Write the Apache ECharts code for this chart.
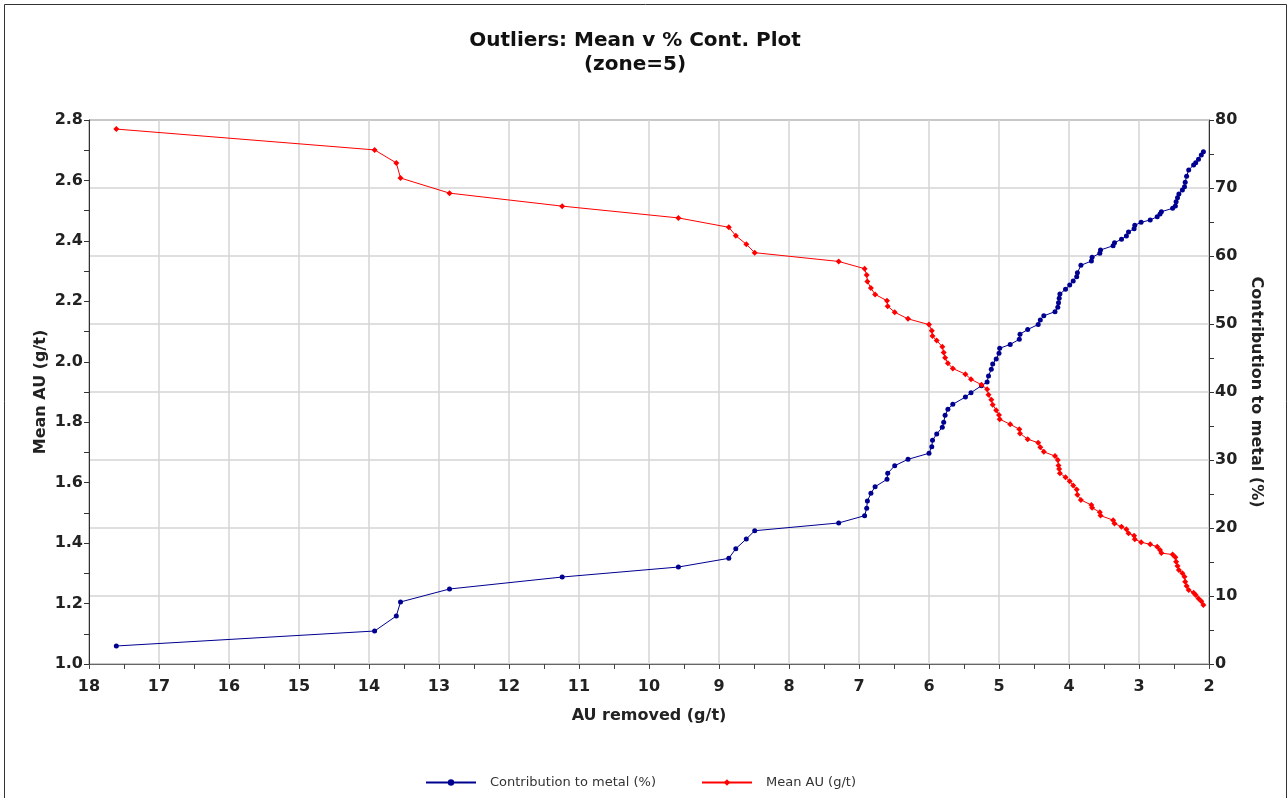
<!DOCTYPE html>
<html>
<head>
<meta charset="utf-8">
<script src="https://cdn.jsdelivr.net/npm/echarts@6/dist/echarts.min.js"></script>
<style>
  html, body { margin: 0; padding: 0; background: #ffffff; }
  #chart { width: 1288px; height: 798px; }
</style>
</head>
<body>
<div id="chart"></div>
<script>
// Cut-off grade removed (g/t) for each step of the outlier analysis
const auRemoved = [
  17.61, 13.92, 13.61, 13.55, 12.85, 11.24, 9.58, 8.86, 8.76, 8.61,
  8.49, 7.29, 6.92, 6.89, 6.88, 6.83, 6.77, 6.60, 6.59, 6.49,
  6.30, 6.00, 5.96, 5.95, 5.89, 5.81, 5.79, 5.77, 5.73, 5.66,
  5.48, 5.40, 5.25, 5.17, 5.15, 5.11, 5.09, 5.04, 5.00, 4.99,
  4.84, 4.71, 4.70, 4.59, 4.44, 4.41, 4.36, 4.20, 4.16, 4.15,
  4.14, 4.13, 4.05, 3.99, 3.94, 3.89, 3.88, 3.83, 3.68, 3.67,
  3.56, 3.55, 3.37, 3.35, 3.25, 3.18, 3.15, 3.07, 3.06, 2.97,
  2.84, 2.74, 2.70, 2.68, 2.52, 2.48, 2.47, 2.45, 2.43, 2.38,
  2.35, 2.34, 2.32, 2.29, 2.22, 2.19, 2.15, 2.11, 2.08
];

// Mean AU (g/t) after removal
const meanAu = [
  2.770, 2.701, 2.658, 2.608, 2.558, 2.515, 2.476, 2.445, 2.417, 2.389,
  2.361, 2.332, 2.308, 2.287, 2.266, 2.244, 2.223, 2.202, 2.184, 2.164,
  2.142, 2.123, 2.103, 2.085, 2.070, 2.050, 2.031, 2.013, 1.995, 1.978,
  1.959, 1.942, 1.924, 1.909, 1.891, 1.874, 1.858, 1.840, 1.824, 1.810,
  1.793, 1.777, 1.763, 1.744, 1.732, 1.717, 1.702, 1.688, 1.675, 1.657,
  1.645, 1.631, 1.618, 1.605, 1.591, 1.577, 1.560, 1.543, 1.526, 1.517,
  1.502, 1.491, 1.476, 1.465, 1.454, 1.446, 1.433, 1.424, 1.413, 1.403,
  1.396, 1.388, 1.377, 1.367, 1.362, 1.353, 1.338, 1.324, 1.311, 1.300,
  1.289, 1.272, 1.258, 1.245, 1.236, 1.228, 1.217, 1.208, 1.195
];

// Contribution to metal (%) of the removed samples
const contribution = [
  2.65, 4.85, 7.06, 9.12, 11.03, 12.79, 14.26, 15.54, 16.96, 18.38,
  19.60, 20.74, 21.81, 22.90, 23.97, 25.10, 26.07, 27.16, 28.04, 29.16,
  30.10, 30.99, 31.96, 32.90, 33.82, 34.81, 35.54, 36.57, 37.46, 38.19,
  39.26, 39.90, 40.93, 41.47, 42.35, 43.34, 44.12, 44.85, 45.69, 46.43,
  46.99, 47.75, 48.50, 49.19, 49.93, 50.59, 51.21, 51.81, 52.46, 53.13,
  53.78, 54.41, 55.10, 55.74, 56.32, 56.96, 57.54, 58.63, 59.26, 59.81,
  60.40, 60.88, 61.51, 61.96, 62.46, 62.94, 63.53, 64.01, 64.51, 64.96,
  65.29, 65.78, 66.18, 66.51, 67.01, 67.35, 67.99, 68.57, 69.12, 69.71,
  70.19, 70.84, 71.74, 72.65, 73.38, 73.72, 74.22, 74.85, 75.34
];

// Axis ranges and tick steps
const xRange = [2, 18, 1];
const meanRange = [1.0, 2.8, 0.2];
const contRange = [0, 80, 10];

const FONT = '"DejaVu Sans", Verdana, sans-serif';
const tickLabel = { fontFamily: FONT, fontWeight: 'bold', fontSize: 16, color: '#222' };
const nameStyle = { fontFamily: FONT, fontWeight: 'bold', fontSize: 16, color: '#222' };

const chart = echarts.init(document.getElementById('chart'), null, { renderer: 'canvas' });

chart.setOption({
  backgroundColor: '#ffffff',
  animation: false,
  title: {
    text: 'Outliers: Mean v % Cont. Plot\n(zone=5)',
    left: 630,
    top: 24,
    textAlign: 'center',
    textStyle: { fontFamily: FONT, fontWeight: 'bold', fontSize: 20, lineHeight: 24, color: '#111' }
  },
  graphic: [{
    type: 'rect',
    shape: { x: 4.5, y: 4.5, width: 1282, height: 820 },
    style: { fill: 'none', stroke: '#333', lineWidth: 1 },
    silent: true
  }],
  legend: {
    left: 420,
    top: 771,
    itemWidth: 50,
    itemHeight: 8,
    itemGap: 45,
    textStyle: { fontFamily: FONT, fontSize: 13, color: '#333', padding: [0, 0, 0, 9] },
    data: ['Contribution to metal (%)', 'Mean AU (g/t)']
  },
  grid: {
    left: 89, right: 79, top: 120, bottom: 134,
    show: true, borderColor: '#444', borderWidth: 1, backgroundColor: 'transparent'
  },
  xAxis: {
    type: 'value',
    inverse: true,
    min: xRange[0], max: xRange[1], interval: xRange[2],
    name: 'AU removed (g/t)',
    nameLocation: 'middle',
    nameGap: 44,
    nameTextStyle: nameStyle,
    axisLine: { show: true, lineStyle: { color: '#666', width: 1 } },
    axisTick: { show: true, length: 5, lineStyle: { color: '#444' } },
    minorTick: { show: true, splitNumber: 2, length: 5, lineStyle: { color: '#444' } },
    axisLabel: Object.assign({ margin: 15, formatter: v => String(Math.round(v)) }, tickLabel),
    splitLine: { show: true, lineStyle: { color: '#d4d4d4', width: 1.5 } }
  },
  yAxis: [
    {
      type: 'value',
      position: 'left',
      min: meanRange[0], max: meanRange[1], interval: meanRange[2],
      name: 'Mean AU (g/t)',
      nameLocation: 'middle',
      nameRotate: 90,
      nameGap: 40,
      nameMoveOverlap: false,
      nameTextStyle: nameStyle,
      axisLine: { show: true, lineStyle: { color: '#333', width: 1 } },
      axisTick: { show: true, length: 5, lineStyle: { color: '#333' } },
      minorTick: { show: true, splitNumber: 2, length: 5, lineStyle: { color: '#333' } },
      axisLabel: Object.assign({ margin: 6, formatter: v => v.toFixed(1) }, tickLabel),
      splitLine: { show: false }
    },
    {
      type: 'value',
      position: 'right',
      min: contRange[0], max: contRange[1], interval: contRange[2],
      name: 'Contribution to metal (%)',
      nameLocation: 'middle',
      nameRotate: -90,
      nameGap: 36,
      nameTextStyle: nameStyle,
      axisLine: { show: true, lineStyle: { color: '#333', width: 1 } },
      axisTick: { show: true, length: 5, lineStyle: { color: '#333' } },
      minorTick: { show: true, splitNumber: 2, length: 5, lineStyle: { color: '#333' } },
      axisLabel: Object.assign({ margin: 6, formatter: v => String(v) }, tickLabel),
      splitLine: { show: true, lineStyle: { color: '#d4d4d4', width: 1.5 } }
    }
  ],
  series: [
    {
      name: 'Contribution to metal (%)',
      type: 'line',
      yAxisIndex: 1,
      data: auRemoved.map((x, i) => [x, contribution[i]]),
      symbol: 'circle',
      symbolSize: 5,
      showAllSymbol: true,
      lineStyle: { color: '#000090', width: 1 },
      itemStyle: { color: '#000090' },
      z: 3
    },
    {
      name: 'Mean AU (g/t)',
      type: 'line',
      yAxisIndex: 0,
      data: auRemoved.map((x, i) => [x, meanAu[i]]),
      symbol: 'diamond',
      symbolSize: 6,
      showAllSymbol: true,
      lineStyle: { color: '#ff0000', width: 1 },
      itemStyle: { color: '#ff0000' },
      z: 4
    }
  ]
});
</script>
</body>
</html>
